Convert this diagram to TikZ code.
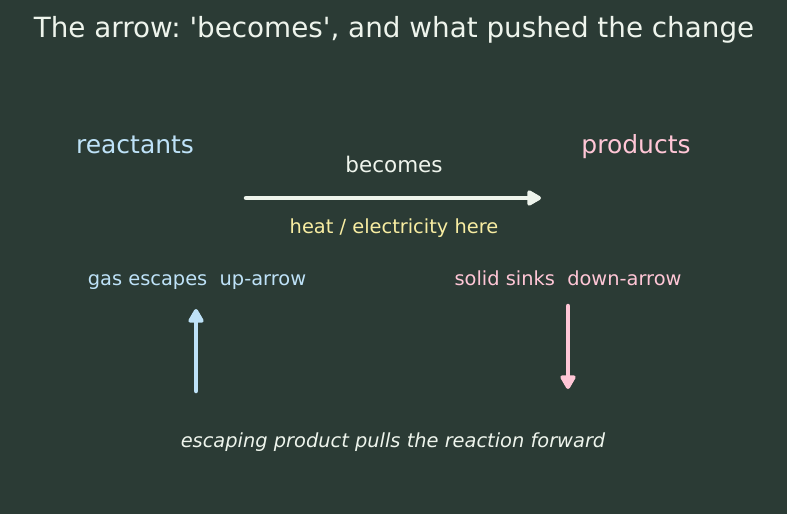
\documentclass[tikz,border=0pt]{standalone}
\usepackage{fontspec}
\setmainfont{DejaVu Sans}[Ligatures=TeXOff]
\usetikzlibrary{arrows.meta}
\definecolor{bgdark}{HTML}{2B3B35}
\definecolor{chalk}{HTML}{EEF4EC}
\definecolor{paleblue}{HTML}{BEE2F8}
\definecolor{palepink}{HTML}{FFC6D6}
\definecolor{paleyellow}{HTML}{F8EDA2}
\tikzset{
	lbl/.style={text=#1, inner sep=0pt, anchor=base},
	push/.style={line width=4.5pt, line cap=round, -{Triangle[round, length=16pt, width=17pt]}, #1},
}
\frenchspacing
\begin{document}
\begin{tikzpicture}[x=1pt, y=-1pt]
	\fill[bgdark] (0,0) rectangle (787,514);
	\useasboundingbox (0,0) rectangle (787,514);
	% title
	\node[lbl=chalk, font=\fontsize{27.8}{32}\selectfont] (title) at (394,37) {The arrow: 'becomes', and what pushed the change};
	% the two sides
	\node[lbl=paleblue, font=\fontsize{25}{30}\selectfont] (reac) at (135,153) {reactants};
	\node[lbl=palepink, font=\fontsize{25}{30}\selectfont] (prod) at (636,153) {products};
	\coordinate (A) at (246,198);
	\coordinate (B) at (541,198);
	\draw[push=chalk] (A) -- (B);
	\node[lbl=chalk, font=\fontsize{21.5}{26}\selectfont] (becomes) at (394,172) {becomes};
	\node[lbl=paleyellow, font=\fontsize{19.4}{23}\selectfont] (heat) at (394,233) {heat / electricity here};
	% gas and solid
	\node[lbl=paleblue, font=\fontsize{19.4}{23}\selectfont] (gas) at (197,285) {gas escapes\ \ up-arrow};
	\node[lbl=palepink, font=\fontsize{19.4}{23}\selectfont] (solid) at (568,285) {solid sinks\ \ down-arrow};
	\coordinate (G1) at (196,391);
	\coordinate (G2) at (196,309);
	\coordinate (S1) at (568,306);
	\coordinate (S2) at (568,389);
	\draw[push=paleblue] (G1) -- (G2);
	\draw[push=palepink] (S1) -- (S2);
	\node[lbl=chalk, font=\fontsize{19.4}{23}\selectfont\itshape] (note) at (393,447) {escaping product pulls the reaction forward};
\end{tikzpicture}
\end{document}
